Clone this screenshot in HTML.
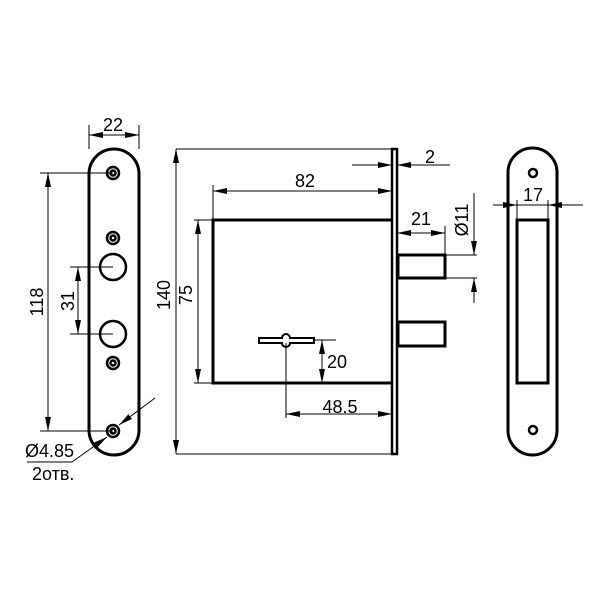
<!DOCTYPE html>
<html><head><meta charset="utf-8"><style>body{margin:0;background:#fff}svg{display:block}</style></head><body>
<svg width="600" height="600" viewBox="0 0 600 600" xmlns="http://www.w3.org/2000/svg" font-family="Liberation Sans, DejaVu Sans, sans-serif" font-size="18">
<defs>
<marker id="a" viewBox="0 0 14 6" refX="14" refY="3" markerWidth="14" markerHeight="6" orient="auto-start-reverse" markerUnits="userSpaceOnUse"><path d="M0,0L14,3L0,6z" fill="#000"/></marker>
</defs>
<rect width="600" height="600" fill="#fff"/>
<g fill="none" stroke="#000">
<rect x="89" y="149" width="50" height="306" rx="25" stroke-width="3"/>
<g stroke-width="2.5">
<circle cx="113" cy="173" r="6"/><circle cx="113" cy="173" r="2.5"/>
<circle cx="113" cy="238" r="6"/><circle cx="113" cy="238" r="2.5"/>
<circle cx="113" cy="363" r="6"/><circle cx="113" cy="363" r="2.5"/>
<circle cx="113" cy="431" r="6"/><circle cx="113" cy="431" r="2.5"/>
<circle cx="113" cy="267" r="13"/><circle cx="113" cy="334" r="13"/>
</g>
<g stroke-width="1">
<line x1="89" y1="125" x2="89" y2="149"/><line x1="139" y1="125" x2="139" y2="149"/>
<line x1="89" y1="135" x2="139" y2="135" marker-start="url(#a)" marker-end="url(#a)"/>
<line x1="40" y1="173" x2="113" y2="173"/><line x1="40" y1="431" x2="113" y2="431"/>
<line x1="48" y1="173" x2="48" y2="431" marker-start="url(#a)" marker-end="url(#a)"/>
<line x1="70" y1="267" x2="113" y2="267"/><line x1="70" y1="334" x2="113" y2="334"/>
<line x1="78" y1="267" x2="78" y2="334" marker-start="url(#a)" marker-end="url(#a)"/>
<line x1="155" y1="398" x2="119" y2="425" marker-end="url(#a)"/>
<line x1="72" y1="462" x2="107" y2="437" marker-end="url(#a)"/>
<line x1="27" y1="462" x2="72" y2="462"/>
</g>
<rect x="392" y="149" width="5" height="305" stroke-width="2.5"/>
<path d="M392 220H213V383H392" stroke-width="3"/>
<rect x="398" y="255" width="47" height="23" stroke-width="3"/>
<rect x="398" y="322" width="47" height="24" stroke-width="3"/>
<path d="M259 338H282A4 4 0 0 1 290 338H314V343H290A4 4 0 0 1 282 343H259Z" stroke-width="2"/>
<g stroke-width="1">
<line x1="176" y1="149" x2="392" y2="149"/><line x1="176" y1="454" x2="392" y2="454"/>
<line x1="176" y1="149" x2="176" y2="454" marker-start="url(#a)" marker-end="url(#a)"/>
<line x1="194" y1="220" x2="213" y2="220"/><line x1="194" y1="383" x2="213" y2="383"/>
<line x1="198" y1="220" x2="198" y2="383" marker-start="url(#a)" marker-end="url(#a)"/>
<line x1="213" y1="185" x2="213" y2="220"/>
<line x1="213" y1="191" x2="392" y2="191" marker-start="url(#a)" marker-end="url(#a)"/>
<line x1="352" y1="165" x2="392" y2="165" marker-end="url(#a)"/>
<line x1="450" y1="165" x2="397" y2="165" marker-end="url(#a)"/>
<line x1="445" y1="226" x2="445" y2="255"/>
<line x1="397" y1="233" x2="445" y2="233" marker-start="url(#a)" marker-end="url(#a)"/>
<line x1="445" y1="255" x2="477" y2="255"/><line x1="445" y1="278" x2="477" y2="278"/>
<line x1="474" y1="193" x2="474" y2="255" marker-end="url(#a)"/>
<line x1="474" y1="303" x2="474" y2="278" marker-end="url(#a)"/>
<line x1="314" y1="340" x2="336" y2="340"/>
<line x1="322" y1="340" x2="322" y2="383" marker-start="url(#a)" marker-end="url(#a)"/>
<line x1="286" y1="343" x2="286" y2="418"/>
<line x1="286" y1="414" x2="392" y2="414" marker-start="url(#a)" marker-end="url(#a)"/>
</g>
<rect x="508" y="148" width="49" height="307" rx="24.5" stroke-width="3"/>
<rect x="517" y="220" width="31" height="163" stroke-width="3"/>
<circle cx="533" cy="173" r="4" stroke-width="2.5"/><circle cx="533" cy="430" r="4" stroke-width="2.5"/>
<g stroke-width="1">
<line x1="517" y1="200" x2="517" y2="220"/><line x1="548" y1="200" x2="548" y2="220"/>
<line x1="517" y1="205" x2="548" y2="205"/>
<line x1="493" y1="205" x2="517" y2="205" marker-end="url(#a)"/>
<line x1="583" y1="205" x2="548" y2="205" marker-end="url(#a)"/>
</g>
</g>
<g fill="#000">
<text x="113" y="131" text-anchor="middle">22</text>
<text transform="translate(43,302) rotate(-90)" text-anchor="middle">118</text>
<text transform="translate(74,301) rotate(-90)" text-anchor="middle">31</text>
<text x="25" y="457">Ø4.85</text>
<text x="32" y="480">2отв.</text>
<text transform="translate(170,295) rotate(-90)" text-anchor="middle">140</text>
<text transform="translate(192,295) rotate(-90)" text-anchor="middle">75</text>
<text x="305" y="187" text-anchor="middle">82</text>
<text x="430" y="163" text-anchor="middle">2</text>
<text x="421" y="225" text-anchor="middle">21</text>
<text transform="translate(468,220) rotate(-90)" text-anchor="middle">Ø11</text>
<text x="327" y="368">20</text>
<text x="340" y="413" text-anchor="middle">48.5</text>
<text x="533" y="201" text-anchor="middle">17</text>
</g>
</svg>
</body></html>
